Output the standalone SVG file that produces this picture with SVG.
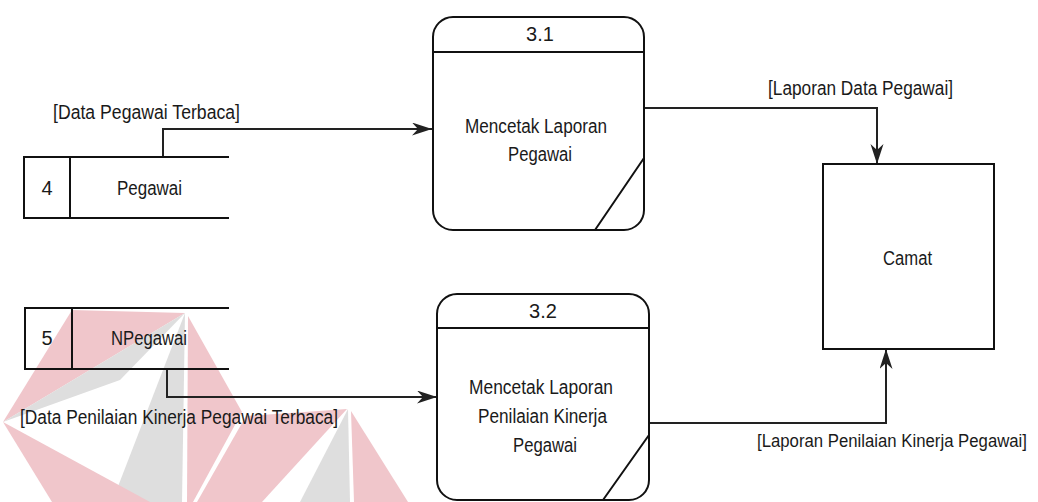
<svg xmlns="http://www.w3.org/2000/svg" width="1038" height="502" viewBox="0 0 1038 502">
  <style>
    .txt { font-family: "Liberation Sans", Arial, sans-serif; font-size: 20px; fill: #1a1a1a; }
    .mid { text-anchor: middle; }
    .shape { fill: none; stroke: #111; stroke-width: 2; }
    .conn { fill: none; stroke: #222; stroke-width: 2; }
    .wm-red { fill: #f0c6cb; }
    .wm-grey { fill: #dedede; }
  </style>
  <defs>
    <marker id="arrow" markerUnits="userSpaceOnUse" markerWidth="21" markerHeight="14" refX="20" refY="6.5" orient="auto">
      <path d="M0,0 L20,6.5 L0,13 L6,6.5 Z" fill="#222"/>
    </marker>
  </defs>
  <rect width="1038" height="502" fill="#ffffff"/>

  <g id="watermark">
    <polygon class="wm-red" points="72,310 185,313 3,422"/>
    <polygon class="wm-grey" points="185,313 3,422 120,380"/>
    <polygon class="wm-grey" points="185,313 112,502 182,502"/>
    <polygon class="wm-red" points="3,422 150,502 52,502"/>
    <polygon class="wm-red" points="188,316 242,412 193,502 187,502"/>
    <polygon class="wm-red" points="347,409 246,416 197,502 262,502"/>
    <polygon class="wm-grey" points="348,409 300,502 350,502"/>
    <polygon class="wm-red" points="351,411 408,502 354,502"/>
  </g>

  <g id="connectors">
    <path class="conn" d="M163,157 V129 H432" marker-end="url(#arrow)"/>
    <path class="conn" d="M167,369 V397 H437" marker-end="url(#arrow)"/>
    <path class="conn" d="M644,108 H877 V164" marker-end="url(#arrow)"/>
    <path class="conn" d="M649,423 H886 V349" marker-end="url(#arrow)"/>
    <text class="txt" x="53" y="119" textLength="187" lengthAdjust="spacingAndGlyphs">[Data Pegawai Terbaca]</text>
    <text class="txt" x="20" y="424" textLength="318" lengthAdjust="spacingAndGlyphs">[Data Penilaian Kinerja Pegawai Terbaca]</text>
    <text class="txt" x="768" y="95" textLength="185" lengthAdjust="spacingAndGlyphs">[Laporan Data Pegawai]</text>
    <text class="txt" x="757" y="447" style="font-size:17.5px" textLength="270" lengthAdjust="spacingAndGlyphs">[Laporan Penilaian Kinerja Pegawai]</text>
  </g>

  <g id="store-4">
    <path class="shape" d="M229,157 H24 V218 H229 M70,157 V218"/>
    <text class="txt mid" x="47" y="195">4</text>
    <text class="txt" x="117" y="195" textLength="65" lengthAdjust="spacingAndGlyphs">Pegawai</text>
  </g>

  <g id="store-5">
    <path class="shape" d="M229,308 H25 V369 H229 M72,308 V369"/>
    <text class="txt mid" x="47" y="345">5</text>
    <text class="txt" x="111" y="345" textLength="76" lengthAdjust="spacingAndGlyphs">NPegawai</text>
  </g>

  <g id="process-3-1">
    <rect class="shape" x="433" y="17" width="211" height="213" rx="20" ry="20" fill="#fff"/>
    <path class="shape" d="M433,52 H644 M595,230 L644,158"/>
    <text class="txt mid" x="540" y="41">3.1</text>
    <text class="txt" x="465" y="133" textLength="142" lengthAdjust="spacingAndGlyphs">Mencetak Laporan</text>
    <text class="txt" x="508" y="161" textLength="64" lengthAdjust="spacingAndGlyphs">Pegawai</text>
  </g>

  <g id="process-3-2">
    <rect class="shape" x="437" y="294" width="212" height="206" rx="20" ry="20" fill="#fff"/>
    <path class="shape" d="M437,328 H649 M603,500 L649,435"/>
    <text class="txt mid" x="543" y="318">3.2</text>
    <text class="txt" x="469" y="394" textLength="144" lengthAdjust="spacingAndGlyphs">Mencetak Laporan</text>
    <text class="txt" x="478" y="423" textLength="129" lengthAdjust="spacingAndGlyphs">Penilaian Kinerja</text>
    <text class="txt" x="513" y="452" textLength="64" lengthAdjust="spacingAndGlyphs">Pegawai</text>
  </g>

  <g id="camat">
    <rect class="shape" x="823" y="164" width="171" height="185" fill="#fff"/>
    <text class="txt" x="883" y="265" textLength="49" lengthAdjust="spacingAndGlyphs">Camat</text>
  </g>
</svg>
